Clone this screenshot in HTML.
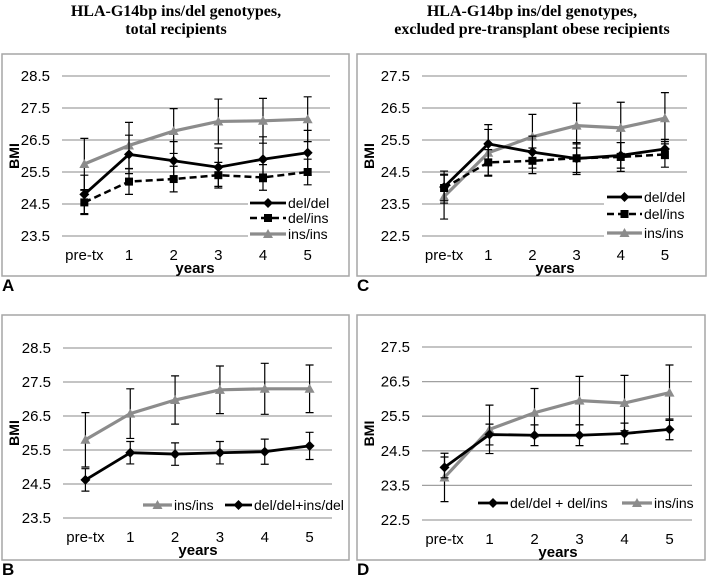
<!DOCTYPE html>
<html><head><meta charset="utf-8"><style>
body{margin:0;background:#fff;}
svg text{font-family:"Liberation Sans",sans-serif;}
</style></head><body>
<svg id="fig" width="710" height="576" viewBox="0 0 710 576" xmlns="http://www.w3.org/2000/svg">
<text x="176" y="16" text-anchor="middle" font-weight="bold" font-size="16" style="font-family:'Liberation Serif',serif">HLA-G14bp ins/del genotypes,</text>
<text x="176" y="34" text-anchor="middle" font-weight="bold" font-size="16" style="font-family:'Liberation Serif',serif">total recipients</text>
<text x="532" y="16" text-anchor="middle" font-weight="bold" font-size="16" style="font-family:'Liberation Serif',serif">HLA-G14bp ins/del genotypes,</text>
<text x="532" y="34" text-anchor="middle" font-weight="bold" font-size="16" style="font-family:'Liberation Serif',serif">excluded pre-transplant obese recipients</text>
</svg>
<script>
const categories = ["pre-tx","1","2","3","4","5"];
const ticksAB = ["23.5","24.5","25.5","26.5","27.5","28.5"];
const ticksCD = ["22.5","23.5","24.5","25.5","26.5","27.5"];
// Panel A
const aDelDel = [24.8,26.05,25.85,25.65,25.9,26.1];
const aDelDelErr = [0.6,0.6,0.6,0.6,0.7,0.7];
const aDelIns = [24.55,25.2,25.28,25.4,25.33,25.5];
const aDelInsErr = [0.38,0.4,0.4,0.4,0.4,0.4];
const aInsIns = [25.75,26.33,26.78,27.08,27.1,27.15];
const aInsInsErr = [0.8,0.72,0.7,0.7,0.7,0.7];
// Panel C
const cDelDel = [24.03,25.38,25.12,24.92,25.02,25.22];
const cDelDelErr = [0.5,0.6,0.5,0.5,0.4,0.3];
const cDelIns = [24.0,24.8,24.85,24.93,24.97,25.05];
const cDelInsErr = [0.4,0.4,0.4,0.45,0.45,0.4];
const cInsIns = [23.73,25.1,25.6,25.95,25.88,26.18];
const cInsInsErr = [0.7,0.73,0.7,0.7,0.8,0.8];
// Panel B
const bInsIns = [25.8,26.57,26.97,27.27,27.3,27.3];
const bInsInsErr = [0.8,0.73,0.71,0.7,0.75,0.7];
const bComb = [24.62,25.42,25.38,25.42,25.45,25.62];
const bCombErr = [0.33,0.33,0.33,0.33,0.37,0.4];
// Panel D
const dComb = [24.02,24.97,24.95,24.95,25.0,25.12];
const dCombErr = [0.3,0.3,0.3,0.3,0.3,0.3];
const dInsIns = [23.73,25.12,25.6,25.95,25.88,26.18];
const dInsInsErr = [0.7,0.7,0.7,0.7,0.8,0.8];

const NS="http://www.w3.org/2000/svg";
const svg=document.getElementById('fig');
function mk(tag,attrs,parent){const e=document.createElementNS(NS,tag);for(const k in attrs)e.setAttribute(k,attrs[k]);(parent||svg).appendChild(e);return e;}
const STY={
 black:{stroke:'#000',w:2.8,dash:null,marker:'diamond',color:'#000'},
 dashed:{stroke:'#000',w:2.5,dash:'7,4',marker:'square',color:'#000'},
 gray:{stroke:'#8c8c8c',w:3.2,dash:null,marker:'triangle',color:'#8c8c8c'}
};
function marker(g,type,x,y,color){
 let m;
 if(type==='diamond')m=mk('polygon',{points:`${x},${y-5} ${x+5},${y} ${x},${y+5} ${x-5},${y}`,fill:color},g);
 else if(type==='square')m=mk('rect',{x:x-4,y:y-4,width:8,height:8,fill:color},g);
 else m=mk('polygon',{points:`${x},${y-5} ${x+5},${y+4} ${x-5},${y+4}`,fill:color},g);
 return m;
}
function panel(p){
 const g=mk('g',{});
 
 
 const box=mk('rect',{x:p.bx,y:p.by,width:p.bw,height:p.bh,fill:'#fff',stroke:'#a6a6a6','stroke-width':1.5},g);
 
 
 const lo=parseFloat(p.ticks[0]),hi=parseFloat(p.ticks[p.ticks.length-1]);
 const Y=v=>p.y0-(v-lo)/(hi-lo)*(p.y0-p.y1);
 const cw=(p.x1-p.x0)/categories.length;
 const X=i=>p.x0+cw*(i+0.5);
 p.ticks.forEach(t=>{
  const v=parseFloat(t);
  const l=mk('line',{x1:p.x0,x2:p.x1,y1:Y(v),y2:Y(v),stroke:'#a0a0a0','stroke-width':1.3},g);
  
  
  const tx=mk('text',{x:p.x0-12,y:Y(v)+5,'text-anchor':'end','font-size':15},g);
  tx.textContent=t;
  
  
 });
 categories.forEach((c,i)=>{
  const tx=mk('text',{x:X(i),y:p.y0+24,'text-anchor':'middle','font-size':15},g);
  tx.textContent=c;
  
  
 });
 const yl=mk('text',{x:0,y:0,transform:`translate(${p.bx+17},${(p.y0+p.y1)/2}) rotate(-90)`,'text-anchor':'middle','font-size':14,'font-weight':'bold'},g);
 yl.textContent='BMI';
 
 
 const xl=mk('text',{x:p.xlx,y:p.y0+37,'text-anchor':'middle','font-size':15,'font-weight':'bold'},g);
 xl.textContent='years';
 
 
 const pl=mk('text',{x:p.bx,y:p.by+p.bh+15,'font-size':17,'font-weight':'bold'},g);
 pl.textContent=p.letter;
 
 
 const lb=mk('rect',p.legBg,g);
 lb.setAttribute('fill','#fff');
 
 
 p.series.forEach(s=>{
  const st=STY[s.style];
  const sg=mk('g',{},g);
  
  
  s.vals.forEach((v,i)=>{
   const e=s.err[i],x=X(i);
   const eb=mk('path',{d:`M${x},${Y(v-e)}V${Y(v+e)}M${x-4},${Y(v-e)}H${x+4}M${x-4},${Y(v+e)}H${x+4}`,stroke:'#000','stroke-width':1.2,fill:'none'},sg);
   
   
  });
  const d=s.vals.map((v,i)=>(i?'L':'M')+X(i)+','+Y(v)).join('');
  const ln=mk('path',{d:d,stroke:st.stroke,'stroke-width':st.w,fill:'none'},sg);
  if(st.dash)ln.setAttribute('stroke-dasharray',st.dash);
  
  
  s.vals.forEach((v,i)=>{
   const m=marker(sg,st.marker,X(i),Y(v),st.color);
   
   
  });
  const lgg=mk('g',{},g);
  
  
  const L=s.leg;
  const ll=mk('line',{x1:L[0],x2:L[1],y1:L[2],y2:L[2],stroke:st.stroke,'stroke-width':st.w},lgg);
  if(st.dash)ll.setAttribute('stroke-dasharray',st.dash);
  marker(lgg,st.marker,(L[0]+L[1])/2,L[2],st.color);
  const lt=mk('text',{x:L[1]+2,y:L[2]+5,'font-size':14},lgg);
  lt.textContent=s.label;
 });
}
panel({name:'panel-a',letter:'A',bx:2,by:54,bw:347,bh:222,x0:62,x1:330,y0:236,y1:76,ticks:ticksAB,xlx:195,
 legBg:{x:248,y:194,width:82,height:48},
 series:[
 {key:'ins-ins',label:'ins/ins',style:'gray',vals:aInsIns,err:aInsInsErr,leg:[250,286,234]},
 {key:'del-ins',label:'del/ins',style:'dashed',vals:aDelIns,err:aDelInsErr,leg:[250,286,218]},
 {key:'del-del',label:'del/del',style:'black',vals:aDelDel,err:aDelDelErr,leg:[250,286,203]}]});
panel({name:'panel-c',letter:'C',bx:357,by:54,bw:349,bh:222,x0:422,x1:687,y0:236,y1:76,ticks:ticksCD,xlx:555,
 legBg:{x:604,y:188,width:84,height:52},
 series:[
 {key:'ins-ins',label:'ins/ins',style:'gray',vals:cInsIns,err:cInsInsErr,leg:[607,642,233]},
 {key:'del-ins',label:'del/ins',style:'dashed',vals:cDelIns,err:cDelInsErr,leg:[607,642,214]},
 {key:'del-del',label:'del/del',style:'black',vals:cDelDel,err:cDelDelErr,leg:[607,642,197]}]});
panel({name:'panel-b',letter:'B',bx:2,by:315,bw:347,bh:245,x0:63,x1:332,y0:518,y1:348,ticks:ticksAB,xlx:198,
 legBg:{x:140,y:496,width:200,height:18},
 series:[
 {key:'ins-ins',label:'ins/ins',style:'gray',vals:bInsIns,err:bInsInsErr,leg:[143,172,505]},
 {key:'del-del-ins-del',label:'del/del+ins/del',style:'black',vals:bComb,err:bCombErr,leg:[225,252,505]}]});
panel({name:'panel-d',letter:'D',bx:357,by:315,bw:348,bh:245,x0:422,x1:692,y0:520,y1:347,ticks:ticksCD,xlx:558,
 legBg:{x:474,y:494,width:218,height:18},
 series:[
 {key:'ins-ins',label:'ins/ins',style:'gray',vals:dInsIns,err:dInsInsErr,leg:[622,652,503]},
 {key:'del-del-del-ins',label:'del/del + del/ins',style:'black',vals:dComb,err:dCombErr,leg:[478,508,503]}]});
</script>
</body></html>
